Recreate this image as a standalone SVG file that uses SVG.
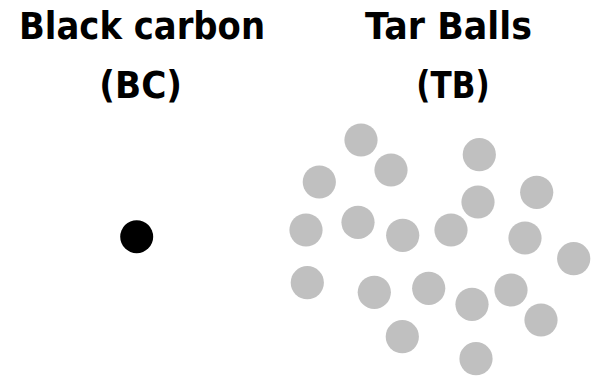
<svg xmlns="http://www.w3.org/2000/svg" width="591" height="379" viewBox="0 0 591 379">
  <style>
    .title { font-family: "DejaVu Sans", "Liberation Sans", sans-serif; font-weight: bold; font-size: 37px; fill: #000; text-anchor: middle; }
    .bc { fill: #000; }
    .tb { fill: #c0c0c0; }
  </style>
  <rect width="591" height="379" fill="#fff"/>

  <!-- Black carbon label and particle -->
  <g id="black-carbon">
    <text class="title" x="142" y="38.5" textLength="246" lengthAdjust="spacingAndGlyphs">Black carbon</text>
    <text class="title" x="140.7" y="98" textLength="82.7" lengthAdjust="spacingAndGlyphs">(BC)</text>
    <circle class="bc" cx="136.7" cy="236.7" r="16.5"/>
  </g>

  <!-- Tar balls label and particle cluster -->
  <g id="tar-balls">
    <text class="title" x="448.5" y="38.5" textLength="167" lengthAdjust="spacingAndGlyphs">Tar Balls</text>
    <text class="title" x="453" y="98" textLength="73.3" lengthAdjust="spacingAndGlyphs">(TB)</text>
    <circle class="tb" cx="361" cy="140" r="16.6"/>
    <circle class="tb" cx="391" cy="170" r="16.6"/>
    <circle class="tb" cx="319.3" cy="182" r="16.6"/>
    <circle class="tb" cx="479.3" cy="154.7" r="16.6"/>
    <circle class="tb" cx="536.7" cy="192.3" r="16.6"/>
    <circle class="tb" cx="478" cy="202" r="16.6"/>
    <circle class="tb" cx="306" cy="230" r="16.6"/>
    <circle class="tb" cx="358" cy="222.3" r="16.6"/>
    <circle class="tb" cx="402.7" cy="235.3" r="16.6"/>
    <circle class="tb" cx="451" cy="230" r="16.6"/>
    <circle class="tb" cx="525" cy="238" r="16.6"/>
    <circle class="tb" cx="573.7" cy="258.7" r="16.6"/>
    <circle class="tb" cx="307.3" cy="282.7" r="16.6"/>
    <circle class="tb" cx="374.3" cy="292.3" r="16.6"/>
    <circle class="tb" cx="428.7" cy="288.3" r="16.6"/>
    <circle class="tb" cx="472" cy="304.3" r="16.6"/>
    <circle class="tb" cx="511" cy="290" r="16.6"/>
    <circle class="tb" cx="541" cy="320" r="16.6"/>
    <circle class="tb" cx="402.3" cy="336.7" r="16.6"/>
    <circle class="tb" cx="476" cy="358.7" r="16.6"/>
  </g>
</svg>
